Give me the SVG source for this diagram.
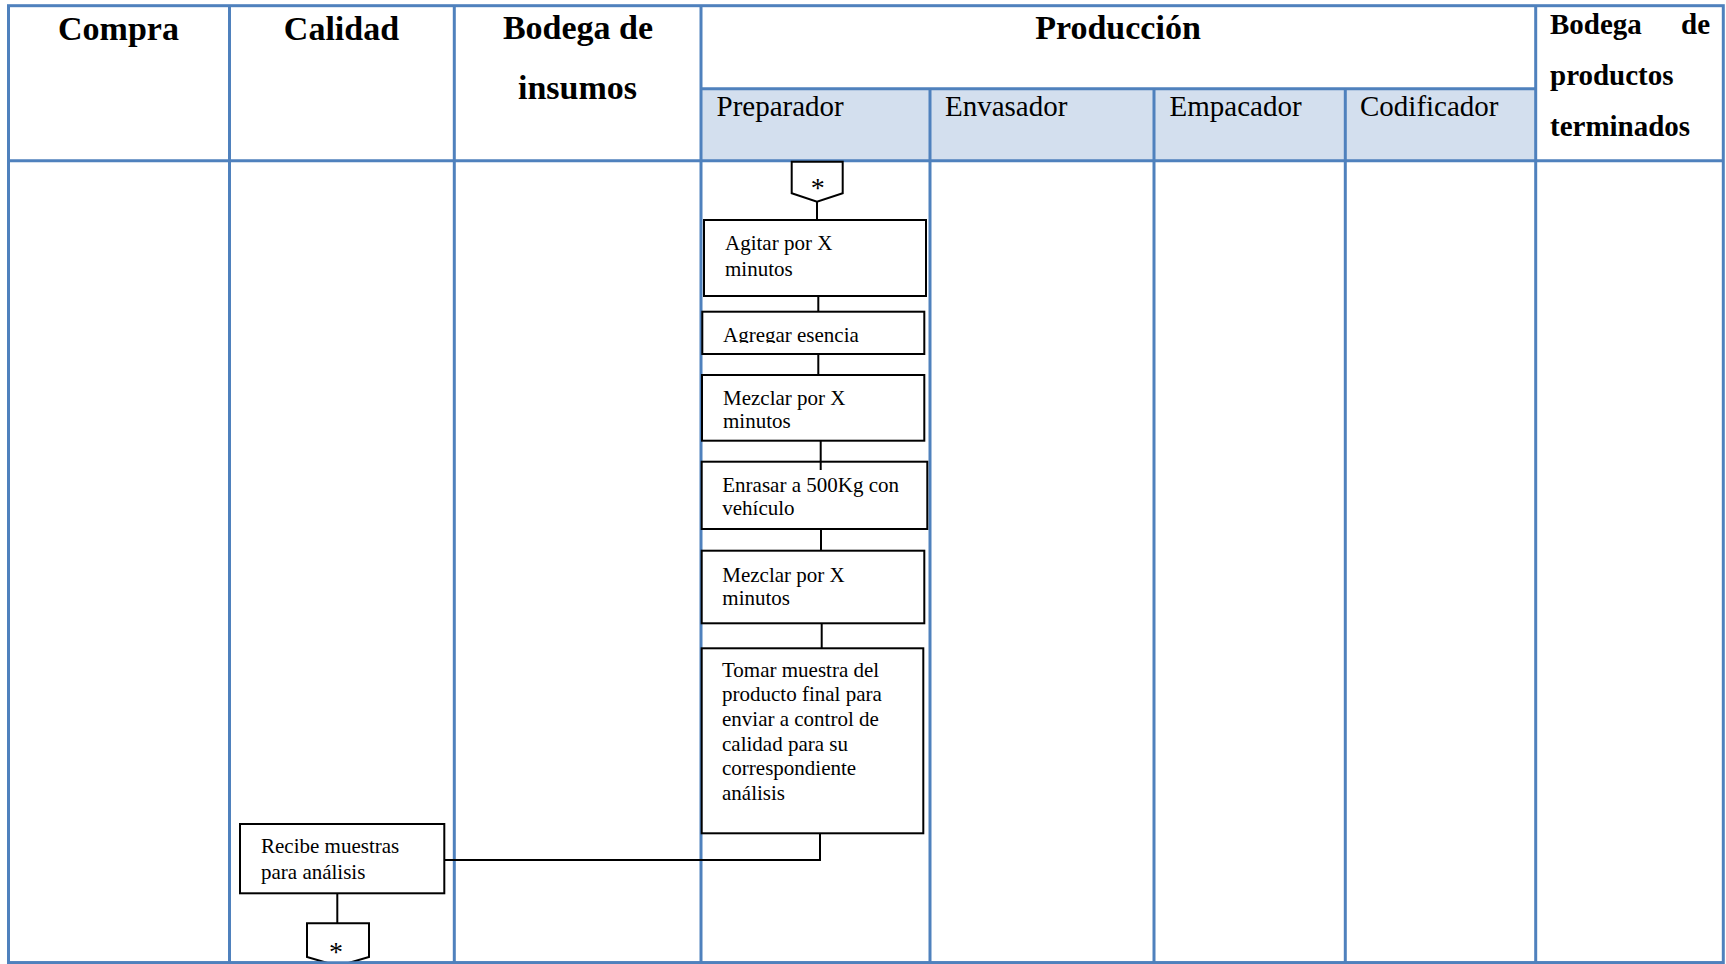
<svg xmlns="http://www.w3.org/2000/svg" width="1726" height="964" viewBox="0 0 1726 964">
  <style>
    .grid { stroke: #4F81BD; stroke-width: 3; fill: none; }
    .head { font-family: "Liberation Serif", "Times New Roman", serif; font-weight: bold; font-size: 34px; fill: #000; }
    .head2 { font-family: "Liberation Serif", "Times New Roman", serif; font-weight: bold; font-size: 29px; fill: #000; }
    .sub { font-family: "Liberation Serif", "Times New Roman", serif; font-size: 29px; fill: #000; }
    .box { fill: #fff; stroke: #000; stroke-width: 2; }
    .txt { font-family: "Liberation Serif", "Times New Roman", serif; font-size: 21px; fill: #000; }
    .star { font-family: "Liberation Serif", "Times New Roman", serif; font-size: 28px; fill: #000; text-anchor: middle; }
    .conn { stroke: #000; stroke-width: 2; fill: none; }
  </style>
  <defs>
    <clipPath id="clipAgregar">
      <rect x="700" y="310" width="230" height="33"/>
    </clipPath>
  </defs>

  <rect x="0" y="0" width="1726" height="964" fill="#fff"/>

  <!-- swimlane table -->
  <g id="table">
    <rect x="701" y="88.7" width="834.7" height="72" fill="#D3DFEE"/>
    <rect class="grid" x="8.5" y="5.7" width="1714.8" height="957"/>
    <line class="grid" x1="8.5" y1="160.7" x2="1723.3" y2="160.7"/>
    <line class="grid" x1="701" y1="88.7" x2="1535.7" y2="88.7"/>
    <line class="grid" x1="229.5" y1="5.7" x2="229.5" y2="964"/>
    <line class="grid" x1="454.3" y1="5.7" x2="454.3" y2="964"/>
    <line class="grid" x1="701" y1="5.7" x2="701" y2="964"/>
    <line class="grid" x1="930" y1="88.7" x2="930" y2="964"/>
    <line class="grid" x1="1154" y1="88.7" x2="1154" y2="964"/>
    <line class="grid" x1="1345.3" y1="88.7" x2="1345.3" y2="964"/>
    <line class="grid" x1="1535.7" y1="5.7" x2="1535.7" y2="964"/>

    <text class="head" x="118.5" y="40" text-anchor="middle">Compra</text>
    <text class="head" x="341.5" y="40" text-anchor="middle">Calidad</text>
    <text class="head" x="578" y="39.3" text-anchor="middle">Bodega de</text>
    <text class="head" x="577.5" y="99.3" text-anchor="middle">insumos</text>
    <text class="head" x="1118" y="39.3" text-anchor="middle">Producción</text>
    <text class="head2" x="1550" y="34">Bodega</text>
    <text class="head2" x="1710" y="34" text-anchor="end">de</text>
    <text class="head2" x="1550" y="85">productos</text>
    <text class="head2" x="1550" y="136">terminados</text>

    <text class="sub" x="716.5" y="115.5">Preparador</text>
    <text class="sub" x="945" y="115.5">Envasador</text>
    <text class="sub" x="1169.5" y="115.5">Empacador</text>
    <text class="sub" x="1360" y="115.5">Codificador</text>
  </g>

  <!-- connectors -->
  <g id="connectors">
    <line class="conn" x1="817" y1="201.7" x2="817" y2="220"/>
    <line class="conn" x1="818.3" y1="296" x2="818.3" y2="311.7"/>
    <line class="conn" x1="818.3" y1="354" x2="818.3" y2="375"/>
    <line class="conn" x1="821" y1="529" x2="821" y2="550.7"/>
    <line class="conn" x1="821.7" y1="623.3" x2="821.7" y2="648.3"/>
    <polyline class="conn" points="820,833.3 820,860 444.3,860"/>
    <line class="conn" x1="337.3" y1="893.3" x2="337.3" y2="923.3"/>
  </g>

  <!-- off-page connector (entry) -->
  <g id="offpage-top">
    <polygon class="box" points="791.7,161.7 842.7,161.7 842.7,193.3 817,201.7 791.7,193.3"/>
    <text class="star" x="817.7" y="197">*</text>
  </g>

  <g id="agitar">
    <rect class="box" x="704" y="220" width="222" height="76"/>
    <text class="txt" x="725" y="250">Agitar por X</text>
    <text class="txt" x="725" y="275.5">minutos</text>
  </g>

  <g id="agregar-esencia">
    <rect class="box" x="702.3" y="311.7" width="222" height="42.3"/>
    <text class="txt" x="723" y="341.5" clip-path="url(#clipAgregar)">Agregar esencia</text>
  </g>

  <g id="mezclar-1">
    <rect class="box" x="702" y="375" width="222.3" height="65.7"/>
    <text class="txt" x="723" y="405">Mezclar por X</text>
    <text class="txt" x="723" y="428">minutos</text>
  </g>

  <g id="enrasar">
    <rect class="box" x="701.7" y="461.7" width="225.6" height="67.3"/>
    <text class="txt" x="722.3" y="491.7">Enrasar a 500Kg con</text>
    <text class="txt" x="722.3" y="515">vehículo</text>
  </g>
  <!-- short stub that runs into the Enrasar box -->
  <line class="conn" x1="820.7" y1="440.7" x2="820.7" y2="470"/>

  <g id="mezclar-2">
    <rect class="box" x="701.7" y="550.7" width="222.6" height="72.6"/>
    <text class="txt" x="722.3" y="581.5">Mezclar por X</text>
    <text class="txt" x="722.3" y="605">minutos</text>
  </g>

  <g id="tomar-muestra">
    <rect class="box" x="701.7" y="648.3" width="221.6" height="185"/>
    <text class="txt" x="722" y="677">Tomar muestra del</text>
    <text class="txt" x="722" y="701.2">producto final para</text>
    <text class="txt" x="722" y="726">enviar a control de</text>
    <text class="txt" x="722" y="750.5">calidad para su</text>
    <text class="txt" x="722" y="775">correspondiente</text>
    <text class="txt" x="722" y="800">análisis</text>
  </g>

  <g id="recibe-muestras">
    <rect class="box" x="240" y="824" width="204.3" height="69.3"/>
    <text class="txt" x="261" y="853.3">Recibe muestras</text>
    <text class="txt" x="261" y="879">para análisis</text>
  </g>

  <!-- off-page connector (exit) -->
  <g id="offpage-bottom">
    <polygon class="box" points="307,923.3 369,923.3 369,957 338,966 307,957"/>
    <text class="star" x="336" y="961">*</text>
  </g>

  <!-- bottom border drawn over the exit connector -->
  <line class="grid" x1="8.5" y1="962.7" x2="1723.3" y2="962.7"/>
</svg>
